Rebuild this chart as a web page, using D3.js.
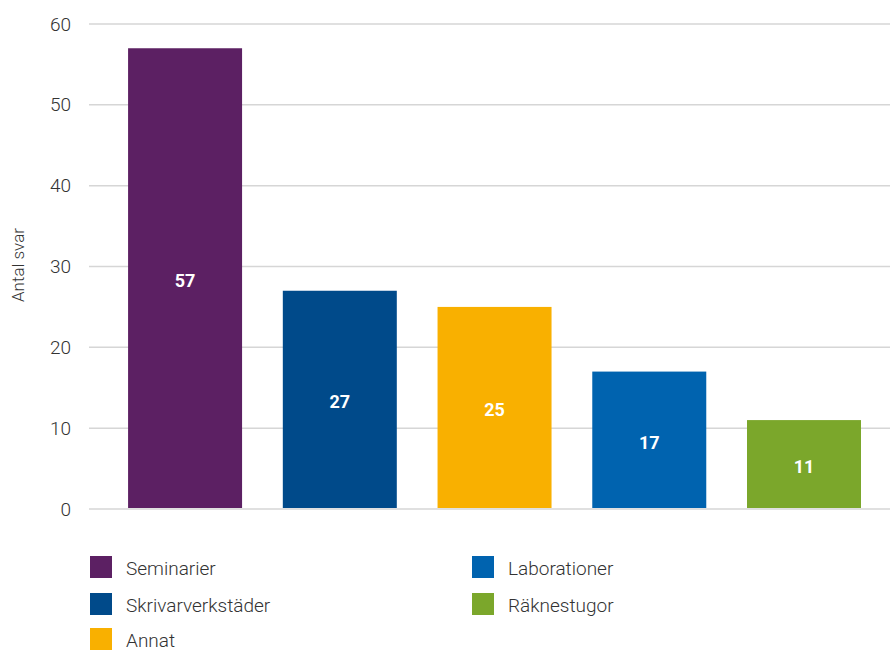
<!DOCTYPE html>
<html><head><meta charset="utf-8">
<script src="https://cdn.jsdelivr.net/npm/d3@7"></script>
<style>body{margin:0;background:#fff}svg{display:block}</style>
</head><body>
<script>
const categories = ["Seminarier","Skrivarverkstäder","Annat","Laborationer","Räknestugor"];
const values = [57,27,25,17,11];
const colors = ["#5c2063","#004a8a","#f9b000","#0063af","#7ba72b"];
const yTicks = [0,10,20,30,40,50,60];
const yTitle = "Antal svar";
const legendOrder = [0,1,2,3,4];

const W=890,H=653;
const svg=d3.select("body").append("svg").attr("width",W).attr("height",H);
const font="Roboto, 'Open Sans', sans-serif";
const y=d3.scaleLinear().domain([0,60]).range([509,24]);
const x=d3.scaleBand().domain(categories).range([89,890]).paddingInner(0.2633).paddingOuter(0.22).align(0.574);

svg.append("g").selectAll("line").data(yTicks).join("line")
 .attr("x1",89).attr("x2",890).attr("y1",d=>y(d)).attr("y2",d=>y(d))
 .attr("stroke","#d6d6d6").attr("stroke-width",1.5);
svg.append("g").selectAll("text").data(yTicks).join("text")
 .attr("x",71).attr("y",d=>y(d)).attr("dy","0.35em").attr("text-anchor","end")
 .attr("font-family",font).attr("font-weight",300).attr("font-size",19).attr("fill","#333")
 .text(d=>d);
svg.append("text").attr("transform","translate(24,265) rotate(-90)").attr("text-anchor","middle")
 .attr("font-family",font).attr("font-weight",300).attr("font-size",17).attr("fill","#333").text(yTitle);
svg.append("g").selectAll("rect").data(categories).join("rect")
 .attr("x",d=>x(d)).attr("width",x.bandwidth())
 .attr("y",(d,i)=>y(values[i])).attr("height",(d,i)=>y(0)-1-y(values[i]))
 .attr("fill",(d,i)=>colors[i]);
svg.append("g").selectAll("text").data(categories).join("text")
 .attr("x",d=>x(d)+x.bandwidth()/2).attr("y",(d,i)=>(y(values[i])+y(0))/2+2).attr("dy","0.35em")
 .attr("text-anchor","middle").attr("font-family",font).attr("font-weight",700).attr("font-size",18).attr("fill","#fff")
 .text((d,i)=>values[i]);
const lpos=[[90,567],[90,604],[90,639],[472,567],[472,604]];
const lg=svg.append("g").selectAll("g").data(legendOrder).join("g")
 .attr("transform",(d,i)=>`translate(${lpos[i][0]},${lpos[i][1]})`);
lg.append("rect").attr("x",0).attr("y",-11).attr("width",22).attr("height",22).attr("fill",d=>colors[d]);
lg.append("text").attr("x",36).attr("y",1).attr("dy","0.35em").attr("font-family",font).attr("font-weight",300)
 .attr("font-size",19).attr("fill","#333").text(d=>categories[d]);
</script>
</body></html>
